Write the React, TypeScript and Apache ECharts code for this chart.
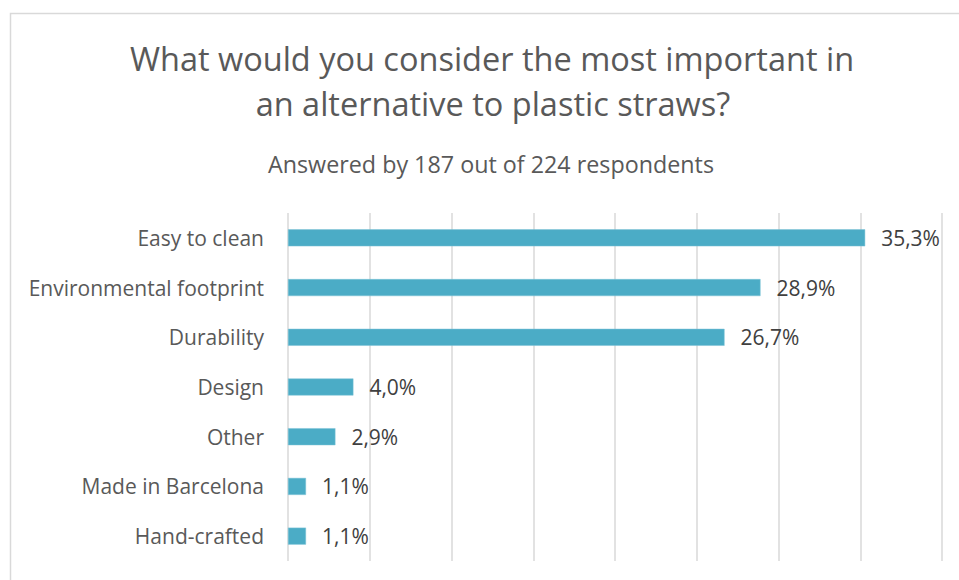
import React, { useEffect, useRef } from "react";
import * as echarts from "echarts";

const categories = [
  "Easy to clean",
  "Environmental footprint",
  "Durability",
  "Design",
  "Other",
  "Made in Barcelona",
  "Hand-crafted",
];
const values = [35.3, 28.9, 26.7, 4.0, 2.9, 1.1, 1.1];
const titleLines = [
  "What would you consider the most important in",
  "an alternative to plastic straws?",
];
const subtitle = "Answered by 187 out of 224 respondents";

const FONT = "'Open Sans', sans-serif";

export default function App() {
  const ref = useRef<HTMLDivElement>(null);
  useEffect(() => {
    if (!ref.current) return;
    const chart = echarts.init(ref.current, null, { renderer: "svg" });
    chart.setOption({
      animation: false,
      backgroundColor: "#ffffff",
      graphic: [
        {
          type: "rect",
          shape: { x: 10.5, y: 13.5, width: 1000, height: 1000 },
          style: { fill: "none", stroke: "#d9d9d9", lineWidth: 1.5 },
          silent: true,
        },
        {
          type: "text",
          x: 492,
          y: 58,
          style: {
            text: titleLines[0],
            fontFamily: FONT,
            fontSize: 32.5,
            fill: "#595959",
            textAlign: "center",
            textVerticalAlign: "middle",
          },
        },
        {
          type: "text",
          x: 493,
          y: 103,
          style: {
            text: titleLines[1],
            fontFamily: FONT,
            fontSize: 32.5,
            fill: "#595959",
            textAlign: "center",
            textVerticalAlign: "middle",
          },
        },
        {
          type: "text",
          x: 491,
          y: 164,
          style: {
            text: subtitle,
            fontFamily: FONT,
            fontSize: 23.3,
            fill: "#595959",
            textAlign: "center",
            textVerticalAlign: "middle",
          },
        },
      ],
      grid: { left: 288, width: 654, top: 213, height: 348, containLabel: false },
      xAxis: {
        type: "value",
        min: 0,
        max: 40,
        interval: 5,
        axisLabel: { show: false },
        axisLine: { show: false },
        axisTick: { show: false },
        splitLine: { show: true, lineStyle: { color: "#d9d9d9", width: 1.5 } },
      },
      yAxis: {
        type: "category",
        data: categories,
        inverse: true,
        axisLine: { show: false },
        axisTick: { show: false },
        axisLabel: {
          margin: 24,
          fontFamily: FONT,
          fontSize: 21,
          color: "#595959",
        },
      },
      series: [
        {
          type: "bar",
          data: values,
          barWidth: 17,
          itemStyle: { color: "#4bacc6", borderColor: "#7cc3d6", borderWidth: 0.5 },
          label: {
            show: true,
            position: "right",
            distance: 16,
            fontFamily: FONT,
            fontSize: 21,
            color: "#404040",
            formatter: (p: any) => p.value.toFixed(1).replace(".", ",") + "%",
          },
        },
      ],
    });
    return () => chart.dispose();
  }, []);
  return (
    <div
      ref={ref}
      style={{ position: "fixed", left: 0, top: 0, width: 959, height: 580 }}
    />
  );
}
